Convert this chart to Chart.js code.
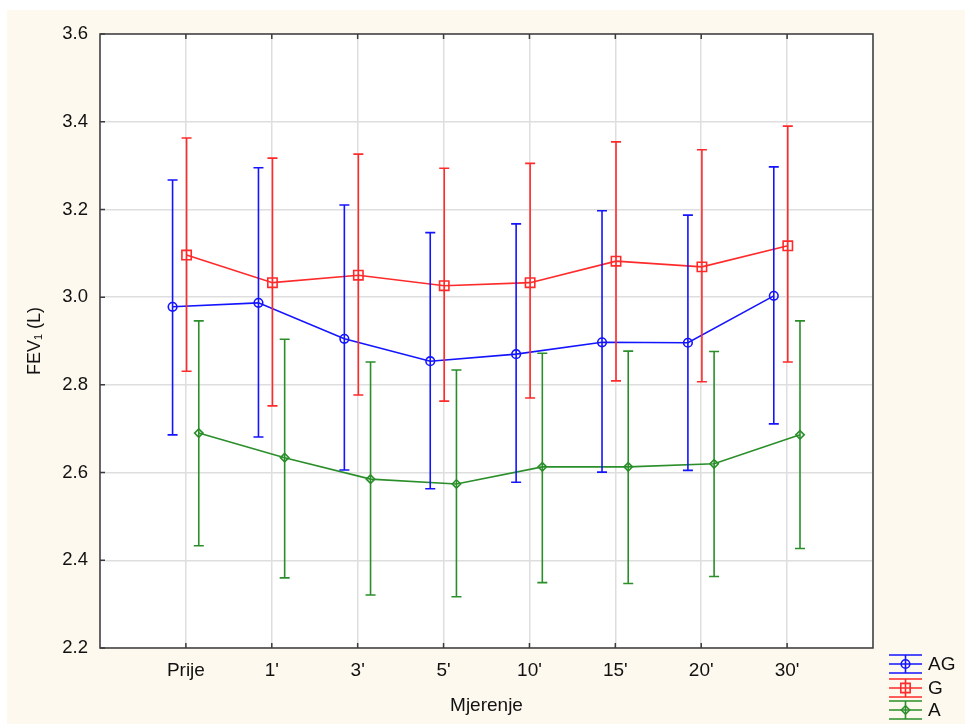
<!DOCTYPE html>
<html>
<head>
<meta charset="utf-8">
<script src="https://cdn.jsdelivr.net/npm/chart.js@4.4.1/dist/chart.umd.min.js"></script>
<style>
  html, body { margin: 0; padding: 0; background: #ffffff; }
  #c { display: block; }
</style>
</head>
<body>
<canvas id="c" width="965" height="724"></canvas>
<script>
const categories = ['Prije', "1'", "3'", "5'", "10'", "15'", "20'", "30'"];
const yTicks = [2.2, 2.4, 2.6, 2.8, 3.0, 3.2, 3.4, 3.6];
const seriesNames = ['AG', 'G', 'A'];

const agMean = [2.978, 2.987, 2.905, 2.854, 2.870, 2.897, 2.896, 3.003];
const agLow  = [2.686, 2.681, 2.606, 2.563, 2.578, 2.601, 2.605, 2.711];
const agHigh = [3.267, 3.295, 3.210, 3.147, 3.167, 3.197, 3.187, 3.297];

const gMean = [3.096, 3.033, 3.050, 3.026, 3.033, 3.082, 3.069, 3.117];
const gLow  = [2.831, 2.752, 2.777, 2.763, 2.770, 2.809, 2.807, 2.852];
const gHigh = [3.363, 3.317, 3.326, 3.294, 3.305, 3.354, 3.336, 3.390];

const aMean = [2.690, 2.634, 2.585, 2.574, 2.613, 2.613, 2.620, 2.686];
const aLow  = [2.433, 2.360, 2.321, 2.317, 2.349, 2.347, 2.363, 2.427];
const aHigh = [2.946, 2.904, 2.852, 2.834, 2.872, 2.877, 2.876, 2.946];

const COLORS = ['#1414ff', '#ff2a2a', '#2a8f2a'];
const OFFSETS = [-0.155, 0.008, 0.15];
const STYLES = [
  { pointStyle: 'circle', radius: 4.3 },
  { pointStyle: 'rect', radius: 6.6 },
  { pointStyle: 'rectRot', radius: 4.2 }
];
const FONT = '"Liberation Sans", Arial, sans-serif';
const TEXT = '#111111';

const means = [agMean, gMean, aMean];
const lows = [agLow, gLow, aLow];
const highs = [agHigh, gHigh, aHigh];

function pts(arr, off) {
  return arr.map((v, i) => ({ x: i + 1 + off, y: v }));
}

const datasets = seriesNames.map((name, s) => ({
  label: name,
  data: pts(means[s], OFFSETS[s]),
  lows: pts(lows[s], OFFSETS[s]),
  highs: pts(highs[s], OFFSETS[s]),
  borderColor: COLORS[s],
  backgroundColor: 'rgba(0,0,0,0)',
  borderWidth: 1.6,
  pointStyle: STYLES[s].pointStyle,
  pointRadius: STYLES[s].radius,
  pointBorderWidth: 1.6,
  pointBorderColor: COLORS[s],
  pointBackgroundColor: 'rgba(0,0,0,0)',
  tension: 0,
  fill: false
}));

const bgPlugin = {
  id: 'bg',
  beforeDraw(chart) {
    const ctx = chart.ctx, a = chart.chartArea;
    ctx.save();
    ctx.fillStyle = '#ffffff';
    ctx.fillRect(0, 0, chart.width, chart.height);
    ctx.fillStyle = '#fef9ef';
    ctx.fillRect(7, 10, chart.width - 7, chart.height - 10);
    ctx.fillStyle = '#ffffff';
    ctx.fillRect(a.left, a.top, a.right - a.left, a.bottom - a.top);
    ctx.restore();
  }
};

const errPlugin = {
  id: 'errbars',
  afterDatasetsDraw(chart) {
    const ctx = chart.ctx;
    const xs = chart.scales.x, ys = chart.scales.y;
    ctx.save();
    chart.data.datasets.forEach((ds) => {
      ctx.strokeStyle = ds.borderColor;
      ctx.lineWidth = 1.6;
      ds.lows.forEach((lo, i) => {
        const hi = ds.highs[i];
        const px = xs.getPixelForValue(lo.x);
        const pl = ys.getPixelForValue(lo.y);
        const ph = ys.getPixelForValue(hi.y);
        ctx.beginPath();
        ctx.moveTo(px, pl); ctx.lineTo(px, ph);
        ctx.moveTo(px - 5, pl); ctx.lineTo(px + 5, pl);
        ctx.moveTo(px - 5, ph); ctx.lineTo(px + 5, ph);
        ctx.stroke();
      });
    });
    ctx.restore();
  },
  afterDraw(chart) {
    const ctx = chart.ctx, a = chart.chartArea;
    const xs = chart.scales.x, ys = chart.scales.y;
    ctx.save();
    ctx.strokeStyle = '#3c3c3c';
    ctx.lineWidth = 1.5;
    ctx.strokeRect(a.left, a.top, a.right - a.left, a.bottom - a.top);
    ctx.beginPath();
    yTicks.forEach(v => {
      const py = ys.getPixelForValue(v);
      ctx.moveTo(a.left, py); ctx.lineTo(a.left + 5, py);
    });
    categories.forEach((c, i) => {
      const px = xs.getPixelForValue(i + 1);
      ctx.moveTo(px, a.top); ctx.lineTo(px, a.top + 5);
      ctx.moveTo(px, a.bottom); ctx.lineTo(px, a.bottom - 5);
    });
    ctx.stroke();
    const lx = 889, lw = 33;
    const rows = [664, 688, 710];
    ctx.font = '19px ' + FONT;
    ctx.textBaseline = 'middle';
    ctx.textAlign = 'left';
    chart.data.datasets.forEach((ds, s) => {
      const cy = rows[s];
      const cx = lx + lw / 2;
      ctx.strokeStyle = ds.borderColor;
      ctx.lineWidth = 1.6;
      ctx.beginPath();
      ctx.moveTo(lx, cy - 9); ctx.lineTo(lx + lw, cy - 9);
      ctx.moveTo(lx, cy); ctx.lineTo(lx + lw, cy);
      ctx.moveTo(lx, cy + 9); ctx.lineTo(lx + lw, cy + 9);
      ctx.moveTo(cx, cy - 9); ctx.lineTo(cx, cy + 9);
      ctx.stroke();
      ctx.fillStyle = 'rgba(0,0,0,0)';
      Chart.helpers.drawPoint(ctx, {
        pointStyle: ds.pointStyle,
        radius: ds.pointRadius,
        rotation: 0,
        borderWidth: 1.6
      }, cx, cy);
      ctx.fillStyle = TEXT;
      ctx.fillText(ds.label, lx + lw + 6, cy + 1);
    });
    ctx.restore();
  }
};

const chart = new Chart(document.getElementById('c'), {
  type: 'line',
  data: { datasets },
  options: {
    responsive: false,
    animation: false,
    devicePixelRatio: 1,
    layout: { padding: { left: 7, top: 34, right: 92, bottom: 0 } },
    plugins: { legend: { display: false }, tooltip: { enabled: false } },
    scales: {
      x: {
        type: 'linear',
        min: 0, max: 9,
        afterFit(scale) { scale.height = 76; },
        afterBuildTicks(scale) {
          scale.ticks = [0,1,2,3,4,5,6,7,8,9].map(v => ({ value: v }));
        },
        ticks: {
          autoSkip: false,
          maxRotation: 0,
          padding: 11,
          color: TEXT,
          font: { family: FONT, size: 19 },
          callback: (v) => (v >= 1 && v <= categories.length) ? categories[v - 1] : ''
        },
        grid: { color: '#dedede', lineWidth: 1.5, drawTicks: false },
        border: { display: false },
        title: {
          display: true,
          text: 'Mjerenje',
          color: TEXT,
          font: { family: FONT, size: 19 },
          padding: { top: 0, bottom: 7 }
        }
      },
      y: {
        type: 'linear',
        min: 2.2, max: 3.6,
        afterFit(scale) { scale.width = 93; },
        afterBuildTicks(scale) {
          scale.ticks = yTicks.map(v => ({ value: v }));
        },
        ticks: {
          padding: 12,
          color: TEXT,
          font: { family: FONT, size: 18.5 },
          callback: (v) => Number(v).toFixed(1)
        },
        grid: { color: '#dedede', lineWidth: 1.5, drawTicks: false },
        border: { display: false },
        title: {
          display: true,
          text: 'FEV\u2081 (L)',
          color: TEXT,
          font: { family: FONT, size: 18 },
          padding: { top: 17, bottom: 0 }
        }
      }
    }
  },
  plugins: [bgPlugin, errPlugin]
});
</script>
</body>
</html>
